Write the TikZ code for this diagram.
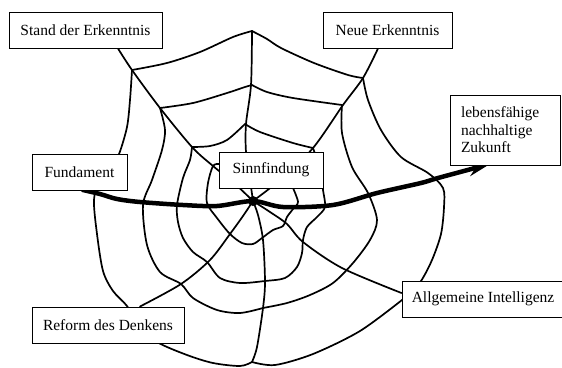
\documentclass[tikz,border=0pt]{standalone}
\usepackage{fontspec}
\setmainfont{Liberation Serif}
\usetikzlibrary{arrows.meta,calc}
\begin{document}
\begin{tikzpicture}[x=1pt,y=-1pt,
  box/.style={draw, line width=1pt, fill=white, font=\fontsize{15.5}{17.5}\selectfont, inner sep=0pt, minimum height=36pt},
  web/.style={line width=1.7pt, line join=round, line cap=round},
  thickarrow/.style={line width=4.5pt, line cap=round, -{Stealth[length=22pt,width=13pt]}}]
\useasboundingbox (0,0) rectangle (562,367);

% nodes (positions only; drawn later on top)
\path
  (85.5,30)  node[box, minimum width=153pt, draw=none, fill=none] (stand) {}
  (387.5,30) node[box, minimum width=129pt, draw=none, fill=none] (neue) {}
  (108,325)  node[box, minimum width=152pt, draw=none, fill=none] (reform) {}
  (483,299)  node[box, minimum width=162pt, draw=none, fill=none] (allg) {};
\coordinate (H) at (253,201);

% spokes
\draw[web] plot[smooth] coordinates {($(stand.south)+(32.5,0)$) (132,70) (160,108) (192,147) (213,166) (235,184) (H)};
\draw[web] plot[smooth] coordinates {($(neue.south)+(-9.5,0)$) (363,78) (343,105) (313,148) (280,180) (H)};
\draw[web] plot[smooth] coordinates {(252,31) (251,85) (246,124) (246,152) (250,180) (H)};
\draw[web] plot[smooth] coordinates {(H) (243,216) (230,234) (210,260) (181,284) ($(reform.north)+(32,0)$)};
\draw[web] plot[smooth] coordinates {(H) (270,212) (287,224) (303,242) (342,268) ($(allg.west)+(0,-6)$)};
\draw[web] plot[smooth] coordinates {(H) (258,215) (263,240) (265,282) (263,308) (257,347) (252,362)};

% ring A (outer)
\draw[web] plot[smooth] coordinates {(132,70) (167,63) (200,52) (233,37) (252,31)};
\draw[web] plot[smooth] coordinates {(252,31) (267,39) (281,48) (314,63) (348,75) (363,78)};
\draw[web] plot[smooth] coordinates {(363,78) (368,100) (381,130) (401,157) (428,173) (443,188) (444,207) (441,234) (432,260) (421,281) (410,292) (402,300)};
\draw[web] plot[smooth] coordinates {(402,300) (360,331) (313,354) (275,365) (252,362)};
\draw[web] plot[smooth] coordinates {(252,362) (240,366) (213,363) (187,355) (157,342) (138,325) (127,306) (113,291) (103,271) (97,234) (94,200) (100,178) (112,162) (119,154) (127,127) (130,100) (132,70)};

% ring B
\draw[web] plot[smooth] coordinates {(160,108) (193,103) (227,93) (245,87) (252,85)};
\draw[web] plot[smooth] coordinates {(252,85) (267,92) (293,98) (342,105)};
\draw[web] plot[smooth] coordinates {(342,105) (342,133) (352,167) (368,193) (377,220) (370,240) (353,263) (333,283) (310,295) (287,303) (263,308)};
\draw[web] plot[smooth] coordinates {(263,308) (240,313) (217,310) (193,298) (181,284) (160,272) (147,245) (143,205) (152,180) (162,150) (165,130) (160,108)};

% ring C
\draw[web] plot[smooth] coordinates {(192,147) (210,146) (227,140) (245,124)};
\draw[web] plot[smooth] coordinates {(245,124) (260,132) (293,143) (313,148)};
\draw[web] plot[smooth] coordinates {(313,148) (320,170) (323,190) (325,207) (317,217) (307,227) (303,240) (302,253) (297,267) (285,278) (265,281) (240,283) (220,278) (207,262) (193,252) (183,238) (178,222) (177,205) (183,178) (190,160) (192,147)};

% ring D (inner)
\draw[web] plot[smooth] coordinates {(219,164) (213,166) (208,183) (207,203) (217,218) (230,234) (242,243) (253,244) (262,238) (273,230) (283,226) (287,217) (293,209) (298,202) (293,188)};

% thick arrow
\draw[thickarrow] plot[smooth] coordinates {(83,190) (100,194) (117,199) (140,202) (183,205) (217,206) (H) (283,207) (333,205) (377,193) (421,183) (438,178) (490,164)};
\node[circle, fill, inner sep=0pt, minimum size=10pt] (hub) at (H) {};

% boxes
\node[box, minimum width=153pt] at (stand) {Stand der Erkenntnis};
\node[box, minimum width=129pt] at (neue) {Neue Erkenntnis};
\node[box, minimum width=95pt] (fund) at (79.5,172) {Fundament};
\node[box, minimum width=104pt] (sinn) at (271,170) {Sinnfindung};
\node[box, minimum width=152pt] at (reform) {Reform des Denkens};
\node[box, minimum width=162pt] at (allg) {Allgemeine Intelligenz};
\node[box, minimum width=110pt, minimum height=70pt, inner xsep=11pt, text width=88pt, align=left] (zuk) at (505,130) {lebensfähige\\nachhaltige\\Zukunft};
\end{tikzpicture}
\end{document}
